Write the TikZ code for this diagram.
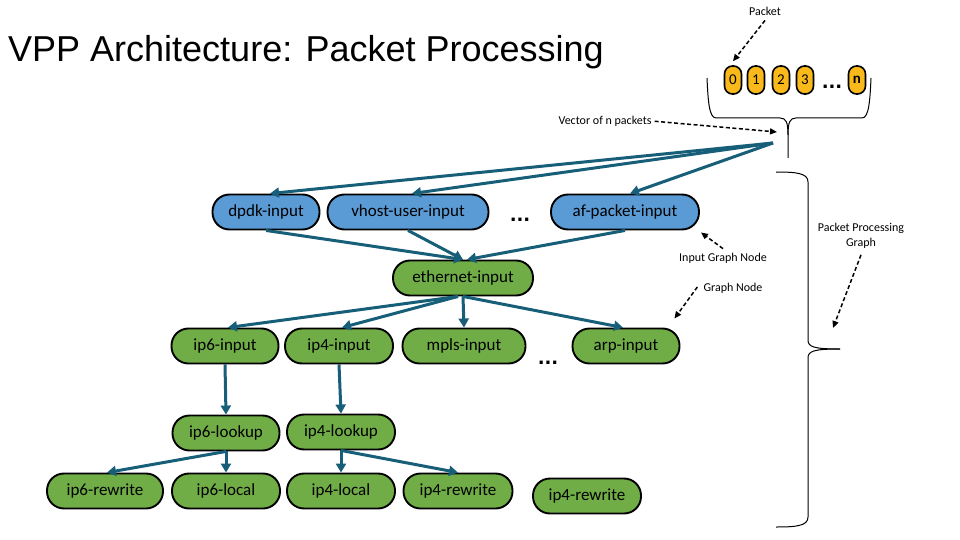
\documentclass[tikz,border=0pt]{standalone}
\usepackage{fontspec}
\setmainfont{Carlito}
\newfontfamily\titlefont{Liberation Sans}
\newfontfamily\dotfont{DejaVu Sans}
\usetikzlibrary{arrows.meta}
\definecolor{nblue}{HTML}{5B9BD5}
\definecolor{ngreen}{HTML}{70AD47}
\definecolor{tealedge}{HTML}{175E78}
\definecolor{pktgold}{HTML}{F9B91A}
\begin{document}
\begin{tikzpicture}[x=1pt,y=-1pt,
  gnode/.style={draw=black, line width=1.9pt, rounded corners=17pt, minimum height=35pt, inner sep=0pt, font=\fontsize{17}{20}\selectfont},
  bnode/.style={gnode, fill=nblue},
  grnode/.style={gnode, fill=ngreen},
  edge/.style={draw=tealedge, line width=3pt, -{Triangle[length=9pt,width=10pt]}},
  note/.style={font=\fontsize{12}{15}\selectfont, inner sep=0pt},
  dasharrow/.style={draw=black, line width=1.5pt, dash pattern=on 4pt off 2.5pt, -{Triangle[length=7pt,width=6pt]}},
  pkt/.style={draw=black, line width=1.6pt, fill=pktgold, rounded corners=8pt, minimum width=17pt, minimum height=28pt, inner sep=0pt, font=\fontsize{15}{18}\selectfont},
  ell/.style={font=\dotfont\bfseries\fontsize{18}{20}\selectfont, inner sep=0pt},
  brace/.style={draw=black, line width=1pt}
]
\useasboundingbox (0,0) rectangle (960,540);
\fill[white] (0,0) rectangle (960,540);

% title
\node[anchor=base west, font=\titlefont\fontsize{36}{40}\selectfont, inner sep=0pt] (title) at (8,62) {VPP Architecture: Packet Processing};

% packets
\node[pkt] (p0) at (733,80) {0};
\node[pkt] (p1) at (756,80) {1};
\node[pkt] (p2) at (781,80) {2};
\node[pkt] (p3) at (805,80) {3};
\node[ell] (pdots) at (832,87) {...};
\node[pkt, font=\fontsize{15}{18}\selectfont\bfseries] (pn) at (857,80) {n};

% top brace
\draw[brace] (707,78) .. controls (708,100) and (709,118) .. (716,118) -- (780,118) .. controls (786,118) and (788,122) .. (788,135) -- (788,158);
\draw[brace] (871,78) .. controls (870,100) and (869,118) .. (862,118) -- (796,118) .. controls (790,118) and (788,122) .. (788,135);

% right brace
\draw[brace] (776,172) .. controls (796,172) and (808,173) .. (808,182) -- (808,340) .. controls (808,347) and (814,349) .. (840,349);
\draw[brace] (776,527) .. controls (796,527) and (808,526) .. (808,517) -- (808,358) .. controls (808,351) and (814,349) .. (840,349);

% input nodes
\node[bnode, minimum width=107pt] (dpdk) at (266,212) {dpdk-input};
\node[bnode, minimum width=161pt] (vhost) at (408,212) {vhost-user-input};
\node[ell] (dots1) at (520,220) {...};
\node[bnode, minimum width=148pt] (af) at (625,212) {af-packet-input};

% graph nodes
\node[grnode, minimum width=140pt] (eth) at (463,278) {ethernet-input};
\node[grnode, minimum width=107pt] (ip6in) at (225,346) {ip6-input};
\node[grnode, minimum width=108pt] (ip4in) at (339,346) {ip4-input};
\node[grnode, minimum width=123pt] (mpls) at (464,346) {mpls-input};
\node[ell] (dots2) at (548,363) {...};
\node[grnode, minimum width=107pt] (arp) at (626,346) {arp-input};
\node[grnode, minimum width=107pt] (ip6lk) at (226,433) {ip6-lookup};
\node[grnode, minimum width=108pt] (ip4lk) at (341,432) {ip4-lookup};
\node[grnode, minimum width=116pt] (ip6rw) at (105,491) {ip6-rewrite};
\node[grnode, minimum width=108pt] (ip6lc) at (226,491) {ip6-local};
\node[grnode, minimum width=108pt] (ip4lc) at (341,491) {ip4-local};
\node[grnode, minimum width=109pt] (ip4rw) at (458,491) {ip4-rewrite};
\node[grnode, minimum width=108pt] (ip4rw2) at (587,496) {ip4-rewrite};

% fan from vector
\coordinate (fan) at (773,143);
\draw[edge] (fan) -- ([xshift=4pt]dpdk.north);
\draw[edge] (fan) -- ([xshift=4pt]vhost.north);
\draw[edge] (fan) -- ([xshift=5pt]af.north);

% edges
\draw[edge] (dpdk.south) -- (eth.north);
\draw[edge] (vhost.south) -- (eth.north);
\draw[edge] (af.south) -- ([xshift=4pt]eth.north);
\draw[edge] ([xshift=-5pt]eth.south) -- ([xshift=3pt]ip6in.north);
\draw[edge] ([xshift=-5pt]eth.south) -- ([xshift=3pt]ip4in.north);
\draw[edge] (eth.south) -- (mpls.north);
\draw[edge] (eth.south) -- ([xshift=-3pt]arp.north);
\draw[edge] (ip6in.south) -- (ip6lk.north);
\draw[edge] (ip4in.south) -- (ip4lk.north);
\draw[edge] (ip6lk.south) -- ([xshift=2pt]ip6rw.north);
\draw[edge] (ip6lk.south) -- (ip6lc.north);
\draw[edge] (ip4lk.south) -- (ip4lc.north);
\draw[edge] (ip4lk.south) -- (ip4rw.north);

% annotations
\node[note] (pktlbl) at (765,11) {Packet};
\draw[dasharrow] ([yshift=-5pt]pktlbl.south) -- ([yshift=4pt]p0.north);

\node[note] (veclbl) at (605,121) {Vector of n packets};
\coordinate (vectip) at (777,132);
\draw[dasharrow, shorten <=3pt] (veclbl.east) -- (vectip);

\node[note] (iglbl) at (723,258) {Input Graph Node};
\draw[dasharrow] ([yshift=4pt]iglbl.north) -- ([xshift=1pt,yshift=-2pt]af.south east);

\node[note] (gnlbl) at (733,288) {Graph Node};
\draw[dasharrow] ([xshift=-6pt,yshift=1pt]gnlbl.west) -- ([xshift=-6pt,yshift=9pt]arp.north east);

\node[note, align=center] (pplbl) at (861,236) {Packet Processing\\Graph};
\coordinate (pptip) at (833,328);
\draw[dasharrow] ([yshift=-6pt]pplbl.south) -- (pptip);
\end{tikzpicture}
\end{document}
